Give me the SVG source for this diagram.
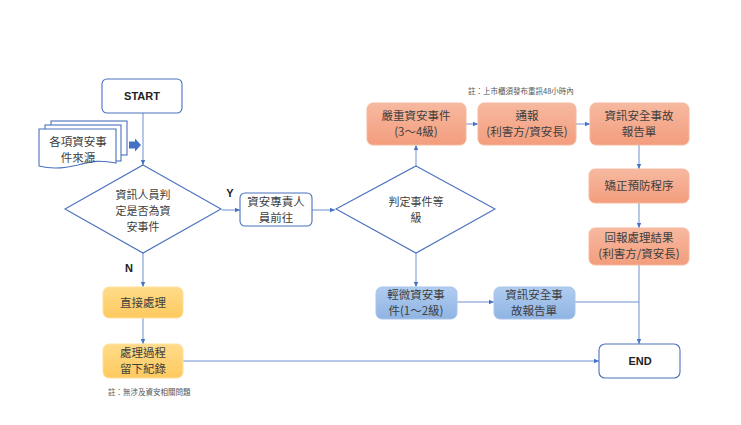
<svg xmlns="http://www.w3.org/2000/svg" width="741" height="425" viewBox="0 0 741 425">
<defs>
<linearGradient id="gSal" x1="0" y1="0" x2="0" y2="1"><stop offset="0" stop-color="#f7b9a0"/><stop offset="1" stop-color="#f39d7d"/></linearGradient>
<linearGradient id="gYel" x1="0" y1="0" x2="0" y2="1"><stop offset="0" stop-color="#ffdc8a"/><stop offset="1" stop-color="#fdc95e"/></linearGradient>
<linearGradient id="gBlu" x1="0" y1="0" x2="0" y2="1"><stop offset="0" stop-color="#b0cdf0"/><stop offset="1" stop-color="#8fb3e3"/></linearGradient>
<marker id="ah" markerWidth="6" markerHeight="6" refX="5" refY="3" orient="auto" markerUnits="userSpaceOnUse"><path d="M0,0.8 L5,3 L0,5.2 Z" fill="#4472c4"/></marker>
</defs>
<style>
.ln{stroke:#6f8fcf;stroke-width:1;fill:none}
.w{fill:#fff;stroke:#4a72be;stroke-width:1.1}
.sal{fill:url(#gSal);stroke:#f4b9a1;stroke-width:1}
.yel{fill:url(#gYel);stroke:#ffe0a0;stroke-width:1}
.blu{fill:url(#gBlu);stroke:#a9c5ea;stroke-width:1}
.t{font-family:"Noto Sans CJK TC","Noto Sans CJK SC",sans-serif;font-size:11.5px;fill:#404040;text-anchor:middle}
.d{font-size:11px}
.e{font-family:"Liberation Sans",Arial,sans-serif;font-size:11px;font-weight:bold;fill:#222;text-anchor:middle}
.n{font-family:"Noto Sans CJK TC","Noto Sans CJK SC",sans-serif;font-size:7.5px;fill:#555}
</style>
<rect width="741" height="425" fill="#fff"/>

<g id="connectors">
<path class="ln" d="M143,113 V165" marker-end="url(#ah)"/>
<path class="ln" d="M222,210 H240" marker-end="url(#ah)"/>
<path class="ln" d="M312,210 H335" marker-end="url(#ah)"/>
<path class="ln" d="M416,166 V145" marker-end="url(#ah)"/>
<path class="ln" d="M466,124 H478" marker-end="url(#ah)"/>
<path class="ln" d="M576,124 H590" marker-end="url(#ah)"/>
<path class="ln" d="M639,145 V169" marker-end="url(#ah)"/>
<path class="ln" d="M639,203 V228" marker-end="url(#ah)"/>
<path class="ln" d="M639,265 V344" marker-end="url(#ah)"/>
<path class="ln" d="M416,253 V287" marker-end="url(#ah)"/>
<path class="ln" d="M457,302 H494" marker-end="url(#ah)"/>
<path class="ln" d="M575,302 H639"/>
<path class="ln" d="M143,253 V287" marker-end="url(#ah)"/>
<path class="ln" d="M143,318 V344" marker-end="url(#ah)"/>
<path class="ln" d="M183,361 H599" marker-end="url(#ah)"/>
<text class="e" x="230" y="197">Y</text>
<text class="e" x="129" y="272">N</text>
</g>

<g id="start"><rect class="w" x="102" y="79" width="80" height="34" rx="5"/><text class="e" x="142" y="100">START</text></g>

<g id="sources">
<rect class="w" x="51" y="121" width="76" height="34"/>
<rect class="w" x="45" y="125" width="76" height="36"/>
<path class="w" d="M39,129 H116 V163 C100,160 92,161 78,165 C62,169 50,169 39,166 Z"/>
<text class="t" x="78" y="146">各項資安事</text>
<text class="t" x="78" y="162">件來源</text>
<path d="M129,141.5 H135 V138.5 L141,145 L135,151.5 V148.5 H129 Z" fill="#4472c4"/>
</g>

<g id="decide1"><path class="w" d="M143,165 L221,209 L143,253 L65,209 Z"/>
<text class="t d" x="143" y="199">資訊人員判</text><text class="t d" x="143" y="215">定是否為資</text><text class="t d" x="143" y="231">安事件</text></g>

<g id="assign"><rect class="w" x="240" y="193" width="72" height="33" rx="5"/><text class="t" x="276" y="206">資安專責人</text><text class="t" x="276" y="222">員前往</text></g>

<g id="decide2"><path class="w" d="M416,166 L495,209 L416,253 L336,209 Z"/>
<text class="t d" x="416" y="206">判定事件等</text><text class="t d" x="416" y="222">級</text></g>

<g id="note1"><text class="n" x="468" y="94">註：上市櫃須發布重訊48小時內</text></g>

<g id="severe"><rect class="sal" x="367" y="103" width="99" height="42" rx="6"/><text class="t" x="416" y="120">嚴重資安事件</text><text class="t" x="416" y="136">(3～4級)</text></g>
<g id="notify"><rect class="sal" x="478" y="103" width="98" height="42" rx="6"/><text class="t" x="527" y="120">通報</text><text class="t" x="527" y="136">(利害方/資安長)</text></g>
<g id="report1"><rect class="sal" x="590" y="103" width="99" height="42" rx="6"/><text class="t" x="639" y="120">資訊安全事故</text><text class="t" x="639" y="136">報告單</text></g>
<g id="correct"><rect class="sal" x="589" y="169" width="100" height="34" rx="6"/><text class="t" x="639" y="190">矯正預防程序</text></g>
<g id="feedback"><rect class="sal" x="589" y="228" width="100" height="37" rx="6"/><text class="t" x="639" y="242">回報處理結果</text><text class="t" x="639" y="258">(利害方/資安長)</text></g>

<g id="minor"><rect class="blu" x="376" y="287" width="81" height="32" rx="6"/><text class="t" x="416" y="299">輕微資安事</text><text class="t" x="416" y="315">件(1～2級)</text></g>
<g id="report2"><rect class="blu" x="494" y="287" width="81" height="32" rx="6"/><text class="t" x="534" y="299">資訊安全事</text><text class="t" x="534" y="315">故報告單</text></g>

<g id="direct"><rect class="yel" x="103" y="287" width="80" height="31" rx="6"/><text class="t" x="143" y="307">直接處理</text></g>
<g id="record"><rect class="yel" x="103" y="344" width="80" height="34" rx="6"/><text class="t" x="143" y="357">處理過程</text><text class="t" x="143" y="373">留下紀錄</text></g>

<g id="end"><rect class="w" x="599" y="344" width="81" height="34" rx="6"/><text class="e" x="640" y="365">END</text></g>

<g id="note2"><text class="n" x="108" y="395">註：無涉及資安相關問題</text></g>
</svg>
